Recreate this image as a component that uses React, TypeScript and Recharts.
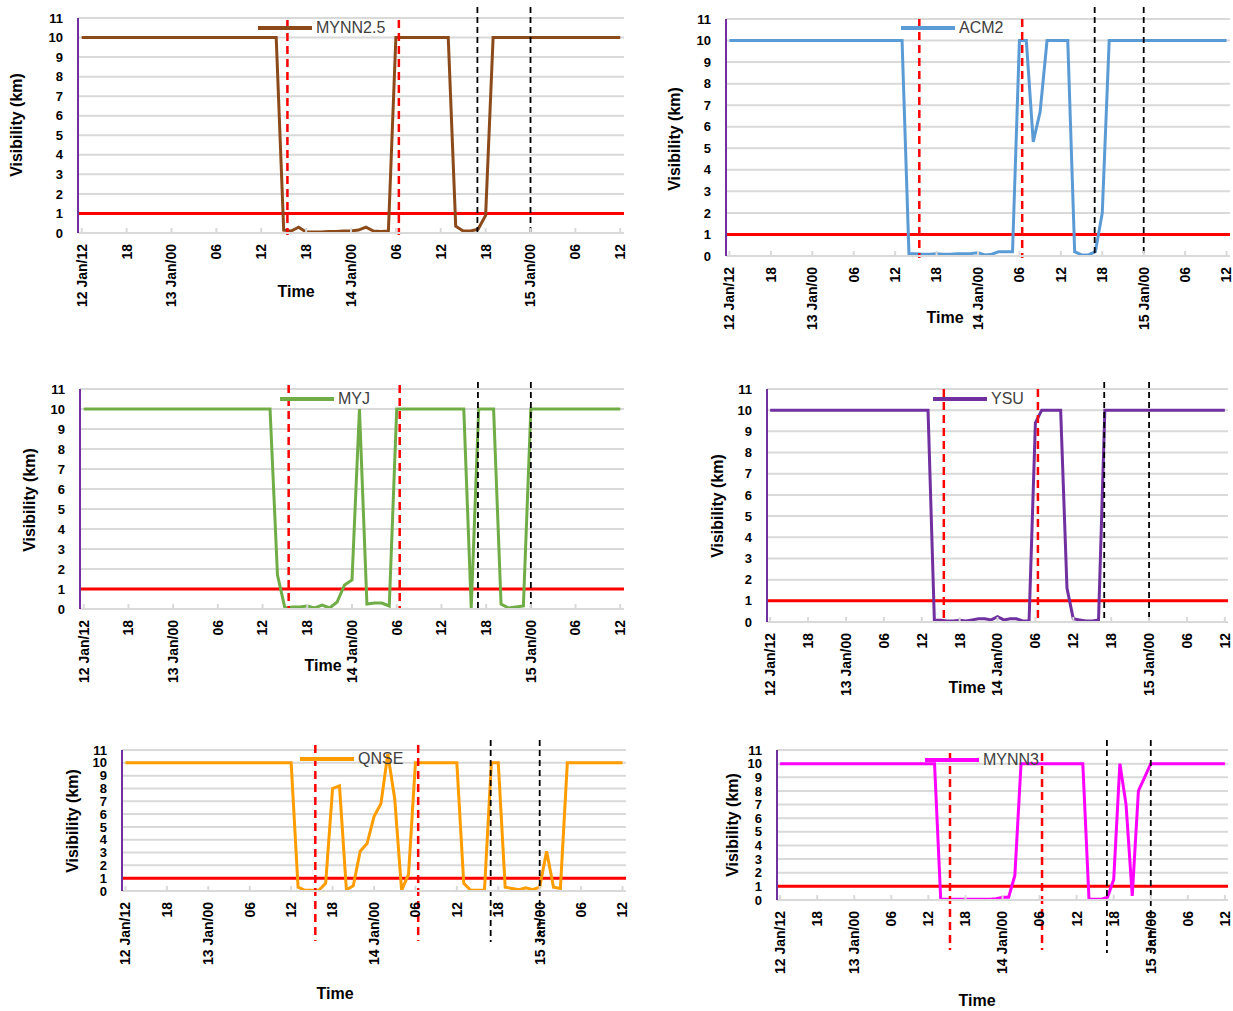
import React from 'react';
import { LineChart, Line, XAxis, YAxis, CartesianGrid, ReferenceLine, Legend } from 'recharts';

const FONT = '"Liberation Sans", Arial, sans-serif';

// hourly steps starting 12 Jan 12:00
const hours = Array.from({ length: 73 }, (_, i) => i);
const tickHours = [0, 6, 12, 18, 24, 30, 36, 42, 48, 54, 60, 66, 72];
const tickLabels = ['12 Jan/12', '18', '13 Jan/00', '06', '12', '18', '14 Jan/00', '06', '12', '18', '15 Jan/00', '06', '12'];
const visTicks = [0, 1, 2, 3, 4, 5, 6, 7, 8, 9, 10, 11];
const threshold = 1;
const redEvents = [27.5, 42.4];
const blackEvents = [52.9, 60];

const mynn25 = [
  10, 10, 10, 10, 10, 10, 10, 10, 10, 10, 10, 10, 10, 10, 10, 10, 10, 10, 10, 10, 10, 10, 10, 10, 10, 10, 10,
  0.15, 0.1, 0.3, 0.05, 0.05, 0.05, 0.08, 0.08, 0.1, 0.1, 0.15, 0.3, 0.1, 0.08, 0.1,
  10, 10, 10, 10, 10, 10, 10, 10,
  0.35, 0.1, 0.1, 0.2, 0.9,
  10, 10, 10, 10, 10, 10, 10, 10, 10, 10, 10, 10, 10, 10, 10, 10, 10, 10,
];
const acm2 = [
  10, 10, 10, 10, 10, 10, 10, 10, 10, 10, 10, 10, 10, 10, 10, 10, 10, 10, 10, 10, 10, 10, 10, 10, 10, 10,
  0.1, 0.1, 0.08, 0.08, 0.1, 0.08, 0.08, 0.1, 0.1, 0.12, 0.15, 0.05, 0.08, 0.2, 0.2, 0.2,
  10, 10, 5.3, 6.7, 10, 10, 10, 10,
  0.2, 0.05, 0.05, 0.2, 2,
  10, 10, 10, 10, 10, 10, 10, 10, 10, 10, 10, 10, 10, 10, 10, 10, 10, 10,
];
const myj = [
  10, 10, 10, 10, 10, 10, 10, 10, 10, 10, 10, 10, 10, 10, 10, 10, 10, 10, 10, 10, 10, 10, 10, 10, 10, 10,
  1.7, 0.05, 0.1, 0.1, 0.15, 0.05, 0.2, 0.05, 0.35, 1.2, 1.45,
  10,
  0.25, 0.3, 0.3, 0.15,
  10, 10, 10, 10, 10, 10, 10, 10, 10, 10,
  0.05,
  10, 10, 10,
  0.25, 0.05, 0.1, 0.15,
  10, 10, 10, 10, 10, 10, 10, 10, 10, 10, 10, 10, 10,
];
const ysu = [
  10, 10, 10, 10, 10, 10, 10, 10, 10, 10, 10, 10, 10, 10, 10, 10, 10, 10, 10, 10, 10, 10, 10, 10, 10, 10,
  0.1, 0.08, 0.05, 0.05, 0.08, 0.05, 0.1, 0.15, 0.15, 0.1, 0.25, 0.1, 0.15, 0.15, 0.05, 0.05,
  9.4, 10, 10, 10, 10,
  1.6, 0.15, 0.1, 0.05, 0.05, 0.1,
  10, 10, 10, 10, 10, 10, 10, 10, 10, 10, 10, 10, 10, 10, 10, 10, 10, 10, 10, 10,
];
const qnse = [
  10, 10, 10, 10, 10, 10, 10, 10, 10, 10, 10, 10, 10, 10, 10, 10, 10, 10, 10, 10, 10, 10, 10, 10, 10,
  0.3, 0.05, 0.05, 0.05, 0.6, 8, 8.2, 0.1, 0.4, 3.1, 3.7, 5.8, 6.8, 10.7, 7.2, 0.05, 1.3,
  10, 10, 10, 10, 10, 10, 10,
  0.6, 0.05, 0.05, 0.05,
  10, 10,
  0.3, 0.2, 0.1, 0.25, 0.1, 0.3, 3.1, 0.3, 0.2,
  10, 10, 10, 10, 10, 10, 10, 10, 10,
];
const mynn3 = [
  10, 10, 10, 10, 10, 10, 10, 10, 10, 10, 10, 10, 10, 10, 10, 10, 10, 10, 10, 10, 10, 10, 10, 10, 10, 10,
  0.05, 0.05, 0.05, 0.05, 0.05, 0.05, 0.05, 0.05, 0.05, 0.1, 0.2, 0.2,
  1.8,
  10, 10, 10, 10, 10, 10, 10, 10, 10, 10, 10,
  0.05, 0.05, 0.05, 0.2, 1.5,
  10, 7, 0.3, 8, 9,
  10, 10, 10, 10, 10, 10, 10, 10, 10, 10, 10, 10, 10,
];

const rows = hours.map((h, i) => ({
  h,
  mynn25: mynn25[i],
  acm2: acm2[i],
  myj: myj[i],
  ysu: ysu[i],
  qnse: qnse[i],
  mynn3: mynn3[i],
}));

// box = chart container [x, y, w, h], plot = [left, right, top, bottom] in page pixels
const panels = [
  { key: 'mynn25', name: 'MYNN2.5', color: '#8C4A1A', box: [0, 0, 632, 320], plot: [78, 624, 18, 233], legend: [258, 28], yLabel: [17, 125], time: [296, 292], red: [-2, 2], black: [11, 2] },
  { key: 'acm2', name: 'ACM2', color: '#5B9BD5', box: [640, 0, 593, 340], plot: [726, 1230, 19, 256], legend: [901, 28], yLabel: [675, 139], time: [945, 318], red: [0, 2], black: [12, 1] },
  { key: 'myj', name: 'MYJ', color: '#70AD47', box: [0, 365, 632, 320], plot: [80, 624, 389, 609], legend: [280, 399], yLabel: [30, 500], time: [323, 666], red: [4, 1], black: [7, 1] },
  { key: 'ysu', name: 'YSU', color: '#7030A0', box: [680, 365, 553, 330], plot: [767, 1228, 389, 622], legend: [933, 399], yLabel: [718, 506], time: [967, 688], red: [0, 1], black: [7, 1] },
  { key: 'qnse', name: 'QNSE', color: '#FF9D00', box: [40, 735, 595, 240], plot: [122, 626, 750, 891], legend: [300, 759], yLabel: [73, 821], time: [335, 994], red: [5, 50], black: [10, 51] },
  { key: 'mynn3', name: 'MYNN3', color: '#FF00FF', box: [700, 735, 533, 240], plot: [777, 1228, 750, 900], legend: [925, 760], yLabel: [733, 825], time: [977, 1001], red: [-3, 50], black: [10, 53] },
];

const TimeTick = (props: any) => {
  const { x, y, payload } = props;
  const label = tickLabels[tickHours.indexOf(payload.value)];
  return (
    <text
      x={x}
      y={y}
      dy="0.35em"
      transform={`rotate(-90, ${x}, ${y})`}
      textAnchor="end"
      fontSize={14}
      fontWeight={700}
      fontFamily={FONT}
      fill="#000"
    >
      {label}
    </text>
  );
};

const legendContent = (props: any) => (
  <div style={{ display: 'flex', alignItems: 'center', height: 20, whiteSpace: 'nowrap' }}>
    {(props.payload || []).map((e: any) => (
      <React.Fragment key={e.value}>
        <svg width={54} height={8} style={{ display: 'block' }}>
          <line x1={0} y1={4} x2={54} y2={4} stroke={e.color} strokeWidth={4} />
        </svg>
        <span style={{ marginLeft: 4, fontSize: 16, color: '#404040', fontFamily: FONT }}>{e.value}</span>
      </React.Fragment>
    ))}
  </div>
);

const eventLine = (ext: number[], stroke: string, width: number, dash: string) => (p: any) => (
  <line
    x1={p.x1}
    x2={p.x2}
    y1={Math.min(p.y1, p.y2) - ext[0]}
    y2={Math.max(p.y1, p.y2) + ext[1]}
    stroke={stroke}
    strokeWidth={width}
    strokeDasharray={dash}
  />
);

function Panel({ p }: { p: any }) {
  const [bx, by, bw, bh] = p.box;
  const [l, r, t, b] = p.plot;
  return (
    <div style={{ position: 'absolute', left: bx, top: by, width: bw, height: bh }}>
      <LineChart width={bw} height={bh} data={rows} margin={{ top: t - by, right: bx + bw - r, left: 0, bottom: 0 }}>
        <CartesianGrid vertical={false} stroke="#D9D9D9" strokeWidth={2} />
        <XAxis
          dataKey="h"
          type="number"
          domain={[-0.5, 72.5]}
          ticks={tickHours}
          interval={0}
          height={by + bh - b}
          axisLine={{ stroke: '#D9D9D9', strokeWidth: 2 }}
          tickLine={{ stroke: '#D9D9D9', strokeWidth: 2 }}
          tickSize={-5}
          tickMargin={16}
          tick={<TimeTick />}
        />
        <YAxis
          type="number"
          domain={[0, 11]}
          ticks={visTicks}
          interval={0}
          width={l - bx}
          axisLine={{ stroke: '#7030A0', strokeWidth: 2 }}
          tickLine={false}
          tickSize={0}
          tickMargin={15}
          tick={{ fontSize: 13, fontWeight: 700, fill: '#000', fontFamily: FONT }}
        />
        <ReferenceLine y={threshold} stroke="#FF0000" strokeWidth={3} />
        <Line
          type="linear"
          dataKey={p.key}
          name={p.name}
          stroke={p.color}
          strokeWidth={3}
          dot={false}
          isAnimationActive={false}
        />
        {redEvents.map((x) => (
          <ReferenceLine key={'r' + x} x={x} shape={eventLine(p.red, '#FF0000', 2.5, '8 5')} />
        ))}
        {blackEvents.map((x) => (
          <ReferenceLine key={'b' + x} x={x} shape={eventLine(p.black, '#000000', 1.8, '6 4')} />
        ))}
        <Legend
          layout="horizontal"
          verticalAlign="middle"
          align="center"
          content={legendContent}
          wrapperStyle={{ left: p.legend[0] - bx, top: p.legend[1] - by - 10, width: 'auto', height: 20 }}
        />
      </LineChart>
    </div>
  );
}

const titleStyle: React.CSSProperties = {
  position: 'absolute',
  fontFamily: FONT,
  fontWeight: 700,
  fontSize: 16,
  color: '#000',
  whiteSpace: 'nowrap',
  lineHeight: '18px',
};

export default function App() {
  return (
    <div style={{ position: 'relative', width: 1233, height: 1011, background: '#fff', overflow: 'hidden' }}>
      <style>{'body{margin:0}'}</style>
      {panels.map((p) => (
        <React.Fragment key={p.key}>
          <Panel p={p} />
          <div style={{ ...titleStyle, left: p.yLabel[0], top: p.yLabel[1], transform: 'translate(-50%, -50%) rotate(-90deg)' }}>
            Visibility (km)
          </div>
          <div style={{ ...titleStyle, left: p.time[0], top: p.time[1], transform: 'translate(-50%, -50%)' }}>Time</div>
        </React.Fragment>
      ))}
    </div>
  );
}
